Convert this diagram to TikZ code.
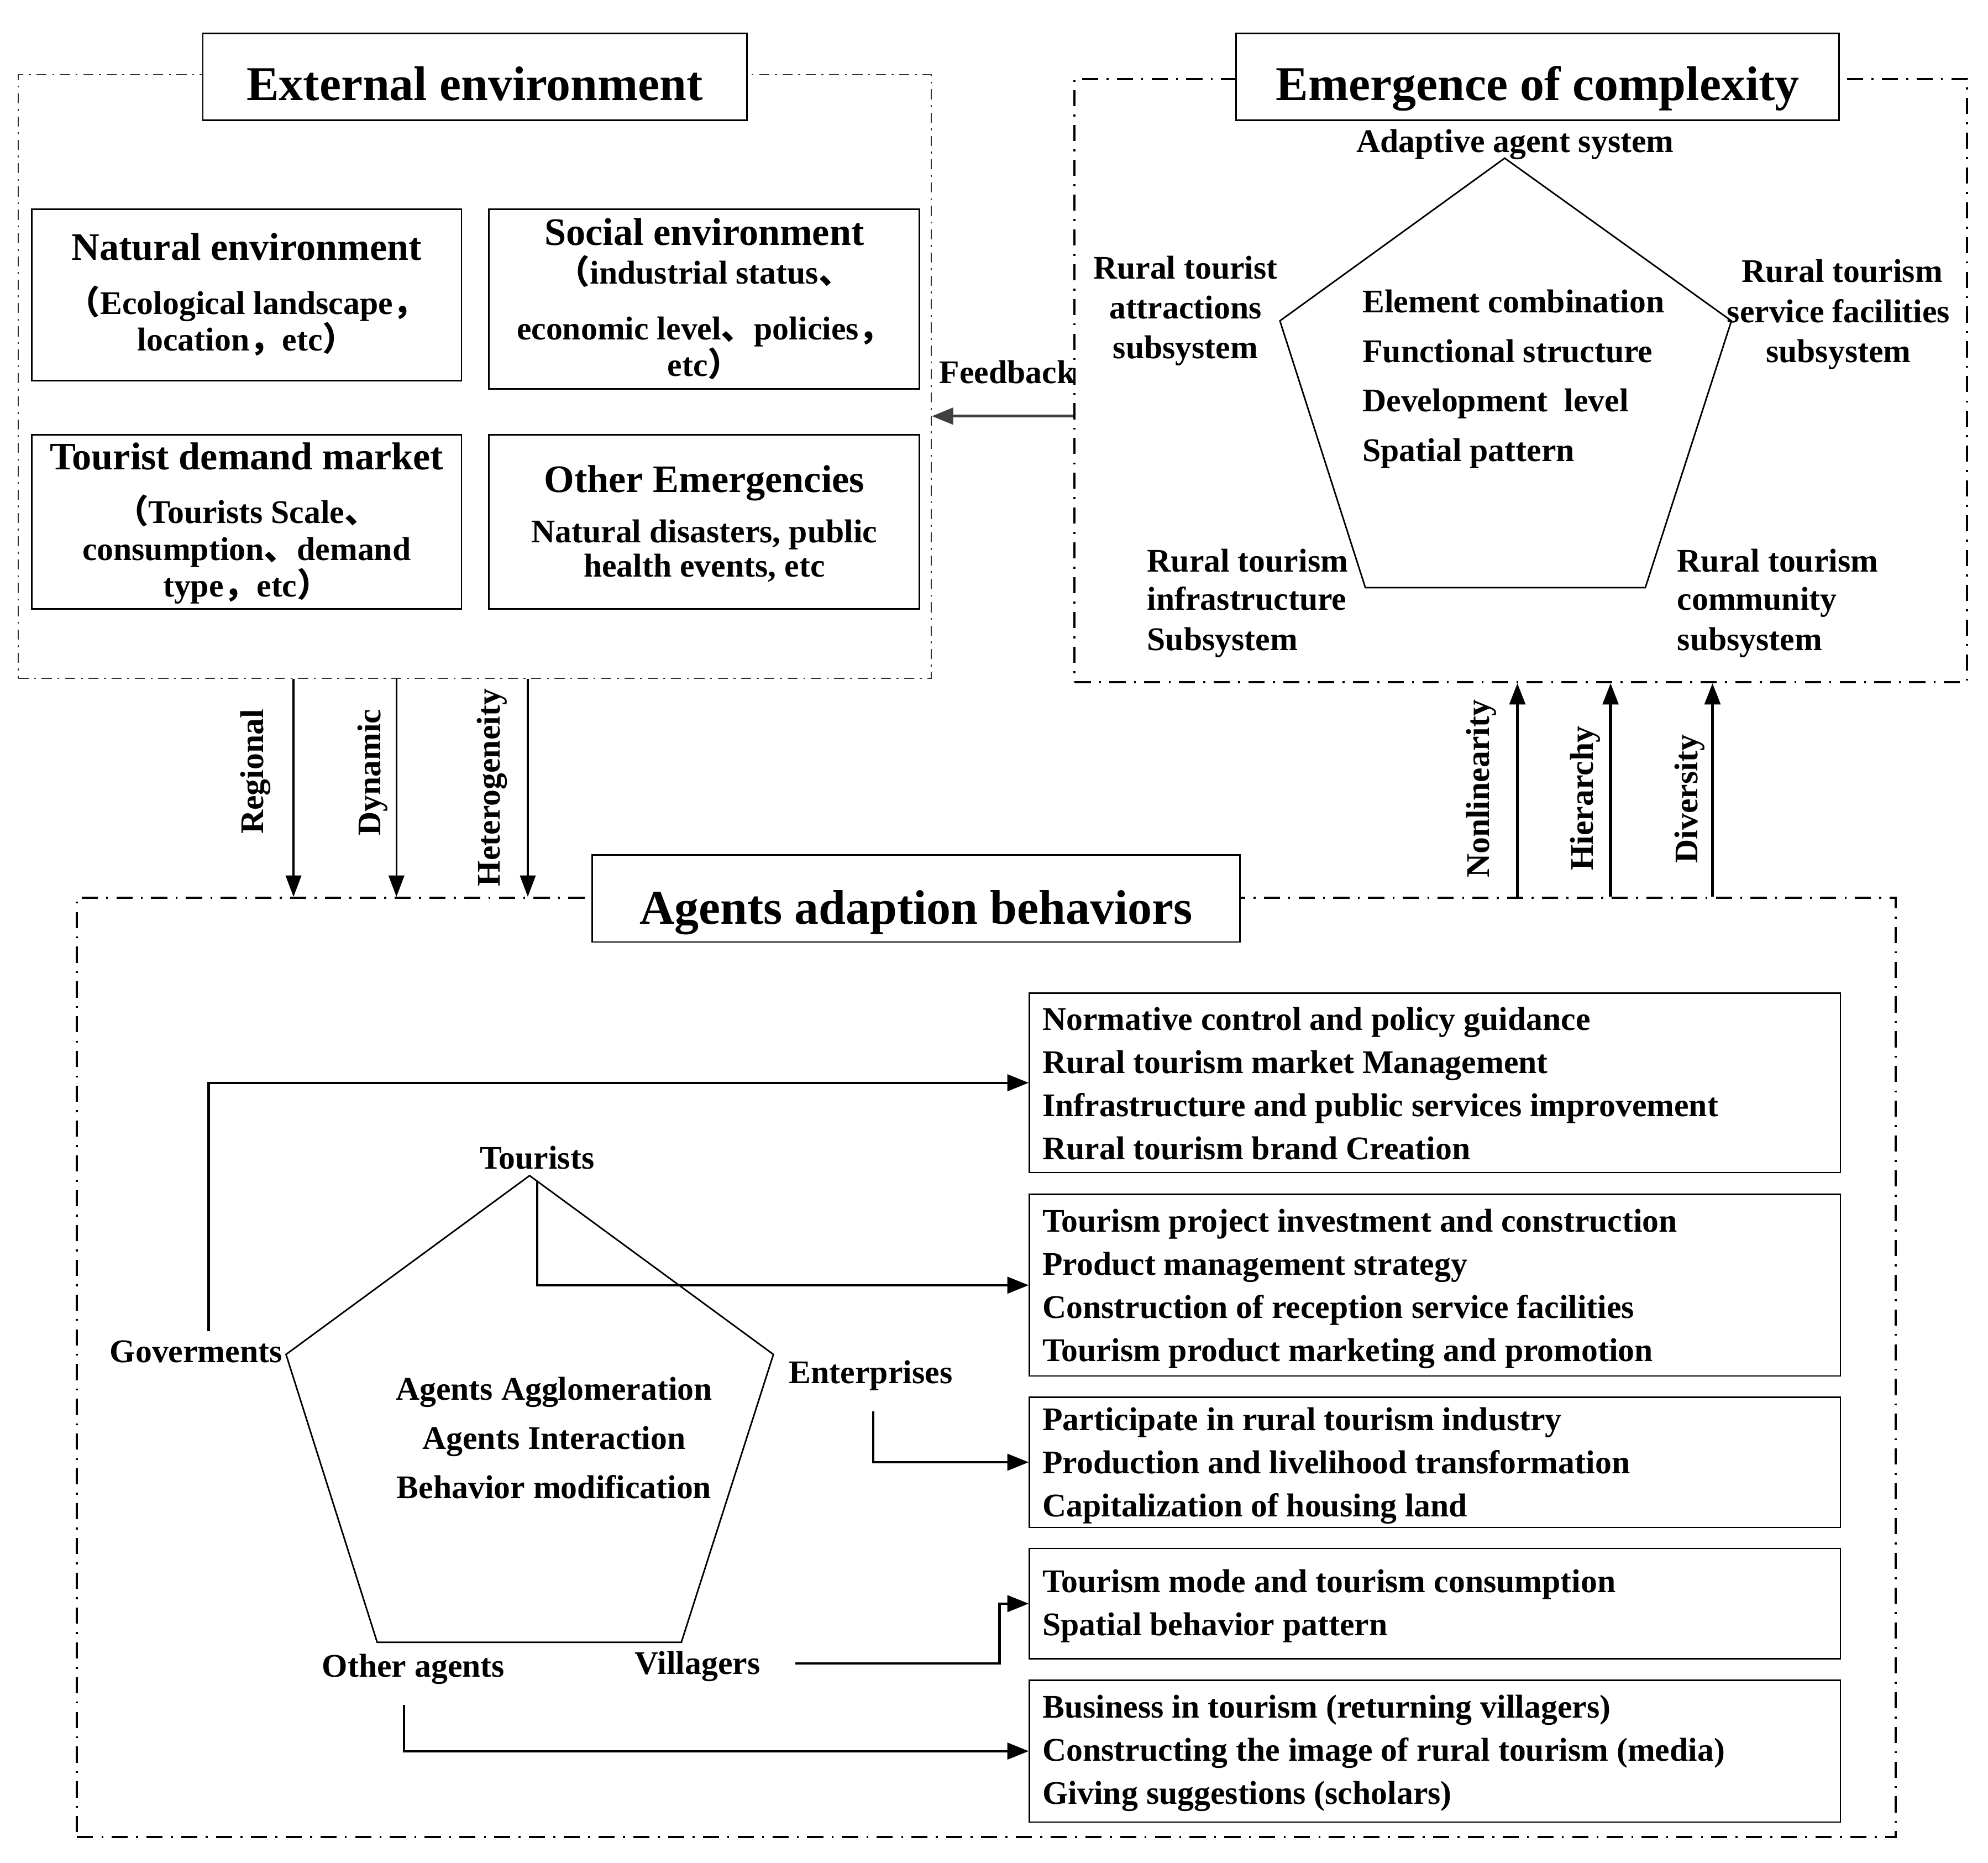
\documentclass[tikz,border=0pt]{standalone}
\usepackage{fontspec}
\setmainfont{Liberation Serif}
\newfontfamily\cjkf{Noto Sans CJK SC}
\usetikzlibrary{arrows.meta,fit,calc}
\newcommand{\zlp}{{\cjkf （}}
\newcommand{\zrp}{{\cjkf ）}}
\newcommand{\zdun}{{\cjkf 、}}
\newcommand{\zcom}{{\cjkf ，}}
\tikzset{
  frame/.style={draw, line width=0.6pt, black!80, dash pattern=on 5.2pt off 2.9pt on 1pt off 2.9pt, inner sep=0pt},
  framew/.style={draw, line width=1.1pt, dash pattern=on 8.3pt off 4.3pt on 1pt off 4.3pt, inner sep=0pt},
  bx/.style={draw, line width=0.8pt, inner sep=0pt, fill=white},
  ttl/.style={font=\fontsize{25}{30}\selectfont\bfseries, inner sep=0pt, text height=16.7pt, text depth=0pt},
  hd/.style={font=\fontsize{20}{24}\selectfont\bfseries, inner sep=0pt, text height=13.4pt, text depth=0pt},
  ln/.style={font=\fontsize{17}{20}\selectfont\bfseries, inner sep=0pt, text height=11.4pt, text depth=0pt},
  lnw/.style={ln, anchor=west},
  conn/.style={line width=1.2pt, -{Triangle[length=11pt,width=8.5pt]}},
  dconn/.style={line width=1.0pt, -{Triangle[length=11pt,width=8pt]}},
  uconn/.style={line width=1.6pt, -{Triangle[length=11pt,width=8pt]}},
  fconn/.style={line width=1.5pt, black!75, -{Triangle[length=11pt,width=8.5pt]}},
  pent/.style={line width=0.8pt},
}
\begin{document}
\begin{tikzpicture}[x=0.2294mm, y=-0.2294mm]
\useasboundingbox (0,0) rectangle (1568,1469);

% ---------------- External environment ----------------
\node[frame, fit={(14.5,59) (734.5,535)}] (ext) {};
\node[bx, fit={(160,26.5) (589,94.7)}] (extT) {};
\node[ttl] (extTt) at (374.5,66.5) {External environment};

\node[bx, fit={(25,165) (364,300)}] (nat) {};
\node[bx, fit={(385.5,165) (725,306.5)}] (soc) {};
\node[bx, fit={(25,343) (364,480)}] (tdm) {};
\node[bx, fit={(385.5,343) (725,480)}] (oem) {};

\node[hd] (nat1) at (194.5,195) {Natural environment};
\node[ln] (nat2) at (194.5,239) {\zlp Ecological landscape\zcom};
\node[ln] (nat3) at (194.5,268) {location\zcom etc\zrp};

\node[hd] (soc1) at (555.5,183) {Social environment};
\node[ln] (soc2) at (555.5,215) {\zlp industrial status\zdun};
\node[ln] (soc3) at (555.5,259) {economic level\zdun policies\zcom};
\node[ln] (soc4) at (555.5,288) {etc\zrp};

\node[hd] (tdm1) at (194.5,360) {Tourist demand market};
\node[ln] (tdm2) at (194.5,404) {\zlp Tourists Scale\zdun};
\node[ln] (tdm3) at (194.5,433) {consumption\zdun demand};
\node[ln] (tdm4) at (194.5,462) {type\zcom etc\zrp};

\node[hd] (oem1) at (555.5,378) {Other Emergencies};
\node[ln] (oem2) at (555.5,419) {Natural disasters, public};
\node[ln] (oem3) at (555.5,446) {health events, etc};

% ---------------- Emergence of complexity ----------------
\node[framew, fit={(847.6,62.2) (1551.5,537.8)}] (emg) {};
\node[bx, fit={(975,26.5) (1450.6,94.7)}] (emgT) {};
\node[ttl] (emgTt) at (1212.8,66.5) {Emergence of complexity};

\coordinate (ua) at (1186.8,124.7);
\coordinate (ub) at (1365.6,253);
\coordinate (uc) at (1297.7,463.4);
\coordinate (ud) at (1076.9,463.4);
\coordinate (ue) at (1009.5,253);
\draw[pent] (ua) -- (ub) -- (uc) -- (ud) -- (ue) -- cycle;

\node[ln] (ads) at (1195,111.5) {Adaptive agent system};
\node[ln] (rta1) at (935,211) {Rural tourist};
\node[ln] (rta2) at (935,242.5) {attractions};
\node[ln] (rta3) at (935,274) {subsystem};
\node[ln] (rsf1) at (1453,214) {Rural tourism};
\node[ln] (rsf2) at (1450,245.5) {service facilities};
\node[ln] (rsf3) at (1450,277) {subsystem};
\node[lnw] (rin1) at (904.5,442) {Rural tourism};
\node[lnw] (rin2) at (904.5,472.5) {infrastructure};
\node[lnw] (rin3) at (904.5,504) {Subsystem};
\node[lnw] (rco1) at (1322.6,442) {Rural tourism};
\node[lnw] (rco2) at (1322.6,472.5) {community};
\node[lnw] (rco3) at (1322.6,504) {subsystem};
\node[lnw] (uin1) at (1074.4,237.7) {Element combination};
\node[lnw] (uin2) at (1074.4,277) {Functional structure};
\node[lnw] (uin3) at (1074.4,316) {Development\ \ level};
\node[lnw] (uin4) at (1074.4,355) {Spatial pattern};

% Feedback
\node[ln] (fb) at (794.5,293.6) {Feedback};
\coordinate (fby) at ($(fb.south)+(0,25.5)$);
\draw[fconn] (emg.west |- fby) -- (ext.east |- fby);

% ---------------- Agents adaption behaviors ----------------
\node[framew, fit={(60.7,708) (1495,1448.4)}] (agt) {};
\node[bx, fit={(467,674) (978,742.8)}] (agtT) {};
\node[ttl] (agtTt) at (722.5,716) {Agents adaption behaviors};

% down arrows
\coordinate (xa) at (231.5,0);
\coordinate (xb) at (312.7,0);
\coordinate (xc) at (416.3,0);
\draw[dconn] (ext.south -| xa) -- (agt.north -| xa);
\draw[dconn] (ext.south -| xb) -- (agt.north -| xb);
\draw[dconn] (ext.south -| xc) -- (agt.north -| xc);
\node[ln, rotate=90] (lreg) at (199,608.5) {Regional};
\node[ln, rotate=90] (ldyn) at (291.5,609) {Dynamic};
\node[ln, rotate=90] (lhet) at (385.5,621) {Heterogeneity};

% up arrows
\coordinate (xd) at (1196.8,0);
\coordinate (xe) at (1270.3,0);
\coordinate (xf) at (1350.7,0);
\draw[uconn] (agt.north -| xd) -- (emg.south -| xd);
\draw[uconn] (agt.north -| xe) -- (emg.south -| xe);
\draw[uconn] (agt.north -| xf) -- (emg.south -| xf);
\node[ln, rotate=90] (lnon) at (1166,622) {Nonlinearity};
\node[ln, rotate=90] (lhie) at (1248,629.5) {Hierarchy};
\node[ln, rotate=90] (ldiv) at (1330,630) {Diversity};

% right boxes
\node[bx, fit={(812,783) (1451.6,924.6)}] (r1) {};
\node[bx, fit={(812,941.8) (1451.6,1085)}] (r2) {};
\node[bx, fit={(812,1101.6) (1451.6,1204.4)}] (r3) {};
\node[bx, fit={(812,1221) (1451.6,1308)}] (r4) {};
\node[bx, fit={(812,1324.8) (1451.6,1436.8)}] (r5) {};

\node[lnw] (r1a) at (822,803.5) {Normative control and policy guidance};
\node[lnw] (r1b) at (822,837.5) {Rural tourism market Management};
\node[lnw] (r1c) at (822,871.5) {Infrastructure and public services improvement};
\node[lnw] (r1d) at (822,905.5) {Rural tourism brand Creation};

\node[lnw] (r2a) at (822,962.5) {Tourism project investment and construction};
\node[lnw] (r2b) at (822,996.5) {Product management strategy};
\node[lnw] (r2c) at (822,1030.5) {Construction of reception service facilities};
\node[lnw] (r2d) at (822,1064.5) {Tourism product marketing and promotion};

\node[lnw] (r3a) at (822,1119) {Participate in rural tourism industry};
\node[lnw] (r3b) at (822,1153) {Production and livelihood transformation};
\node[lnw] (r3c) at (822,1187) {Capitalization of housing land};

\node[lnw] (r4a) at (822,1247) {Tourism mode and tourism consumption};
\node[lnw] (r4b) at (822,1281) {Spatial behavior pattern};

\node[lnw] (r5a) at (822,1346) {Business in tourism (returning villagers)};
\node[lnw] (r5b) at (822,1380) {Constructing the image of rural tourism (media)};
\node[lnw] (r5c) at (822,1414) {Giving suggestions (scholars)};

% lower pentagon
\coordinate (la) at (417.7,927);
\coordinate (lb) at (610,1068);
\coordinate (lc) at (537.4,1295);
\coordinate (ld) at (297.5,1295);
\coordinate (le) at (225.6,1068);
\draw[pent] (la) -- (lb) -- (lc) -- (ld) -- (le) -- cycle;

\node[ln] (tou) at (423.6,913) {Tourists};
\node[ln] (gov) at (154.6,1065.7) {Goverments};
\node[ln] (ent) at (686.8,1082) {Enterprises};
\node[ln] (oth) at (326,1313.5) {Other agents};
\node[ln] (vil) at (550.2,1311.5) {Villagers};

\node[ln] (lin1) at (437,1095) {Agents Agglomeration};
\node[ln] (lin2) at (437,1134) {Agents Interaction};
\node[ln] (lin3) at (437,1173) {Behavior modification};

% connectors
\draw[conn] ($(gov.north)+(10,-7)$) |- (r1.west);
\draw[conn] ($(tou.south)+(0,9)$) |- (r2.west);
\draw[conn] ($(ent.south)+(2,22)$) |- (r3.west);
\draw[conn] ($(vil.east)+(27.5,0)$) -| ($(r4.west)+(-23,0)$) -- (r4.west);
\draw[conn] ($(oth.south)+(-7.5,22)$) |- (r5.west);
\end{tikzpicture}
\end{document}
